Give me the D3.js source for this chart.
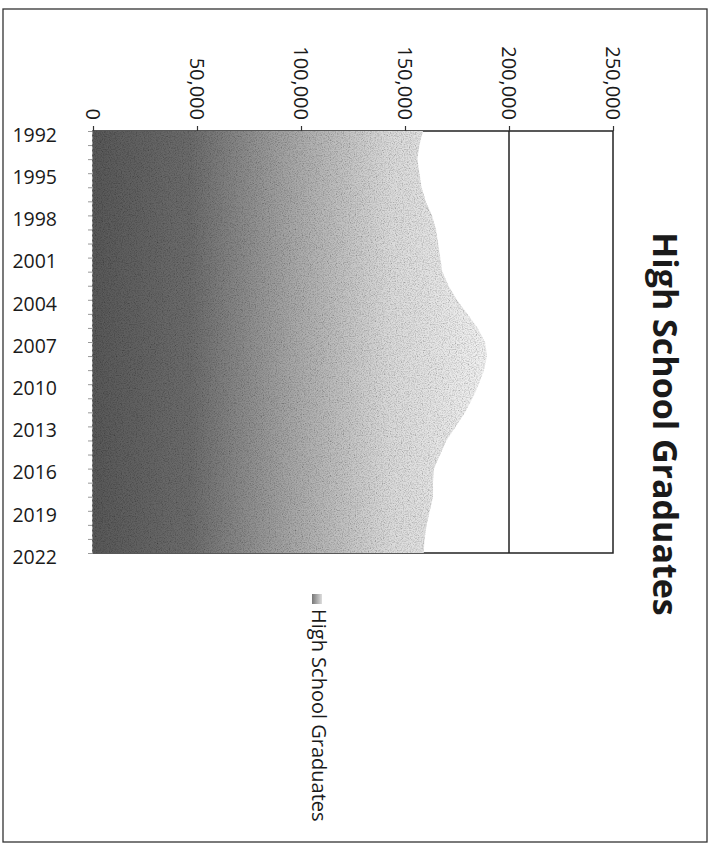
<!DOCTYPE html>
<html>
<head>
<meta charset="utf-8">
<script src="https://cdn.jsdelivr.net/npm/d3@7"></script>
<style>
  html, body { margin: 0; padding: 0; background: #fff; }
  svg { display: block; }
</style>
</head>
<body>
<svg id="chart" width="711" height="846"></svg>
<script>
// ---- data ----
const years = [1992,1993,1994,1995,1996,1997,1998,1999,2000,2001,2002,2003,2004,2005,2006,2007,2008,2009,2010,2011,2012,2013,2014,2015,2016,2017,2018,2019,2020,2021,2022];
const graduates = [158700,157000,156000,157000,158000,160000,163000,165000,166000,167000,168000,171000,175000,180000,185000,188500,189500,188000,185500,182500,179000,174500,170000,167000,164000,163500,163500,162000,160500,159500,159000];
const yearTickLabels = [1992,1995,1998,2001,2004,2007,2010,2013,2016,2019,2022];
const valueTicks = [0,50000,100000,150000,200000,250000];
const seriesName = "High School Graduates";
const chartTitle = "High School Graduates";

const data = years.map((y, i) => ({year: y, value: graduates[i]}));

const svg = d3.select("#chart");
const font = "'Open Sans', 'Liberation Sans', sans-serif";

// outer chart border
svg.append("rect").attr("x", 3).attr("y", 9).attr("width", 704).attr("height", 833)
  .attr("fill", "none").attr("stroke", "#333").attr("stroke-width", 1.3);

// scales (chart is rotated: values run left->right, years top->bottom)
const x = d3.scaleLinear().domain([0, 250000]).range([93, 613]);
const y = d3.scaleLinear().domain([1992, 2022]).range([131, 553]);

// defs: gradient + grain
const defs = svg.append("defs");
const grad = defs.append("linearGradient").attr("id", "areaGrad")
  .attr("gradientUnits", "userSpaceOnUse")
  .attr("x1", x(0)).attr("x2", x(190000)).attr("y1", 0).attr("y2", 0);
[[0, "#585858"], [0.25, "#6c6c6c"], [0.5, "#a6a6a6"], [0.75, "#dadada"], [1, "#f2f2f2"]]
  .forEach(([o, c]) => grad.append("stop").attr("offset", o).attr("stop-color", c));

const f = defs.append("filter").attr("id", "grain")
  .attr("x", 0).attr("y", 0).attr("width", 1).attr("height", 1);
f.append("feTurbulence").attr("type", "fractalNoise").attr("baseFrequency", 0.85)
  .attr("numOctaves", 2).attr("seed", 7).attr("result", "t");
f.append("feColorMatrix").attr("in", "t").attr("type", "matrix")
  .attr("values", "0.6 0.6 0.6 0 0  0.6 0.6 0.6 0 0  0.6 0.6 0.6 0 0  0 0 0 0 1").attr("result", "g");
f.append("feBlend").attr("in", "SourceGraphic").attr("in2", "g").attr("mode", "multiply").attr("result", "b");
f.append("feComposite").attr("in", "b").attr("in2", "SourceGraphic").attr("operator", "in");

// plot area border
svg.append("rect").attr("x", x(0)).attr("y", y(1992))
  .attr("width", x(250000) - x(0)).attr("height", y(2022) - y(1992))
  .attr("fill", "none").attr("stroke", "#222").attr("stroke-width", 1.5);

// gridlines
svg.append("g").selectAll("line").data(valueTicks.filter(v => v > 0 && v < 250000)).join("line")
  .attr("x1", d => x(d)).attr("x2", d => x(d))
  .attr("y1", y(1992)).attr("y2", y(2022))
  .attr("stroke", "#222").attr("stroke-width", 1.5);

// area
const area = d3.area()
  .y(d => y(d.year))
  .x0(x(0))
  .x1(d => x(d.value));
svg.append("path").datum(data)
  .attr("d", area)
  .attr("fill", "url(#areaGrad)")
  .attr("filter", "url(#grain)");

// value axis (top)
const xAxis = svg.append("g").attr("transform", `translate(0,${y(1992)})`)
  .call(d3.axisTop(x).tickValues(valueTicks).tickFormat(d3.format(",")).tickSize(5).tickSizeOuter(0));
xAxis.select(".domain").remove();
xAxis.selectAll(".tick line").attr("stroke", "#333").attr("stroke-width", 1.2);
xAxis.selectAll(".tick text")
  .attr("font-family", font).attr("font-size", 20).attr("fill", "#1a1a1a")
  .attr("text-anchor", "end")
  .attr("transform", "translate(0,-11) rotate(90)")
  .attr("x", 0).attr("y", 0).attr("dy", "0.36em");

// category axis (left)
const yAxis = svg.append("g").attr("transform", `translate(${x(0) - 1},0)`)
  .call(d3.axisLeft(y).tickValues(years).tickFormat("").tickSize(4).tickSizeOuter(0));
yAxis.select(".domain").attr("stroke", "#999").attr("stroke-width", 1).attr("stroke-dasharray", "3,2");
yAxis.selectAll(".tick line").attr("stroke", "#999");

svg.append("g").selectAll("text").data(yearTickLabels).join("text")
  .attr("x", 57).attr("y", d => y(d) + 4)
  .attr("dy", "0.35em")
  .attr("text-anchor", "end")
  .attr("font-family", font).attr("font-size", 19.5).attr("fill", "#1a1a1a")
  .text(d => d);

// title (rotated)
svg.append("text")
  .attr("transform", `translate(653,${424}) rotate(90)`)
  .attr("text-anchor", "middle")
  .attr("font-family", font).attr("font-weight", "bold").attr("font-size", 34)
  .attr("fill", "#1a1a1a")
  .text(chartTitle);

// legend (rotated)
const lgGrad = defs.append("linearGradient").attr("id", "legGrad");
[[0, "#777"], [1, "#ddd"]].forEach(([o, c]) => lgGrad.append("stop").attr("offset", o).attr("stop-color", c));
const lg = svg.append("g").attr("transform", "translate(312,594)");
lg.append("rect").attr("x", 0).attr("y", 0).attr("width", 10).attr("height", 10)
  .attr("fill", "url(#legGrad)");
svg.append("text")
  .attr("transform", "translate(312,609) rotate(90)")
  .attr("font-family", font).attr("font-size", 20).attr("fill", "#1a1a1a")
  .text(seriesName);
</script>
</body>
</html>
